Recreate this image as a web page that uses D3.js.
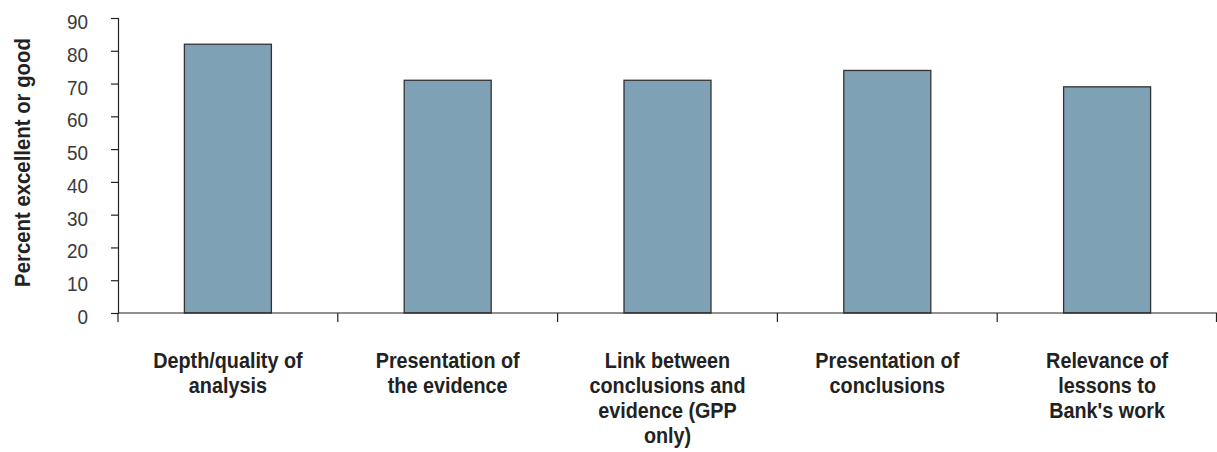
<!DOCTYPE html>
<html>
<head>
<meta charset="utf-8">
<script src="https://cdn.jsdelivr.net/npm/d3@7"></script>
<style>
  body { margin: 0; background: #fff; }
  svg { display: block; }
  .narrow { font-family: "Liberation Sans Narrow", "Arial Narrow", "Liberation Sans", sans-serif; }
</style>
</head>
<body>
<svg id="chart" width="1217" height="452"></svg>
<script>
const categories = [
  ["Depth/quality of", "analysis"],
  ["Presentation of", "the evidence"],
  ["Link between", "conclusions and", "evidence (GPP", "only)"],
  ["Presentation of", "conclusions"],
  ["Relevance of", "lessons to", "Bank's work"]
];
const values = [82, 71, 71, 74, 69];
const yTicks = [0, 10, 20, 30, 40, 50, 60, 70, 80, 90];
const yLabel = "Percent excellent or good";

(function () {
const svg = d3.select("#chart");
const mLeft = 118, mRight = 1217, mTop = 18, mBottom = 313;
const sx = 0.9; // horizontal condensing of text

const xOuter = d3.scaleBand().domain(d3.range(categories.length)).range([mLeft, mRight]);
const y = d3.scaleLinear().domain([0, 90]).range([mBottom, mTop]);
const barW = 87;

// bars
svg.append("g").selectAll("rect").data(values).join("rect")
  .attr("x", (d, i) => xOuter(i) + xOuter.bandwidth() / 2 - barW / 2)
  .attr("width", barW)
  .attr("y", d => y(d))
  .attr("height", d => y(0) - y(d))
  .attr("fill", "#7fa1b5")
  .attr("stroke", "#333")
  .attr("stroke-width", 1.3);

// y axis
const yAxis = svg.append("g").attr("transform", `translate(${mLeft},0)`)
  .call(d3.axisLeft(y).tickValues(yTicks).tickSize(7).tickPadding(23));
yAxis.select(".domain").attr("stroke", "#222").attr("stroke-width", 1.2);
yAxis.selectAll(".tick line").attr("stroke", "#222").attr("stroke-width", 1.2);
yAxis.selectAll(".tick text").attr("class", "narrow").attr("font-size", 21).attr("fill", "#3a3a3a")
  .attr("x", -30 / sx).attr("transform", `scale(${sx},1)`).attr("dy", "0.5em");

// x axis
const xAxis = svg.append("g").attr("transform", `translate(0,${mBottom})`);
xAxis.append("line").attr("x1", mLeft).attr("x2", mRight).attr("stroke", "#222").attr("stroke-width", 1.2);
const bounds = d3.range(categories.length + 1).map(i => i < categories.length ? xOuter(i) : mRight - 0.5);
xAxis.selectAll("line.t").data(bounds).join("line").attr("class", "t")
  .attr("x1", d => d).attr("x2", d => d).attr("y1", 0).attr("y2", 9)
  .attr("stroke", "#222").attr("stroke-width", 1.2);

// category labels
const labels = svg.append("g");
categories.forEach((lines, i) => {
  const cx = xOuter(i) + xOuter.bandwidth() / 2;
  const t = labels.append("text").attr("class", "narrow")
    .attr("transform", `translate(${cx},368) scale(${sx},1)`)
    .attr("text-anchor", "middle").attr("font-size", 22).attr("font-weight", "bold").attr("fill", "#222");
  lines.forEach((ln, j) => t.append("tspan").attr("x", 0).attr("y", j * 25).text(ln));
});

// y label
svg.append("text").attr("class", "narrow")
  .attr("transform", `translate(30,162.5) rotate(-90) scale(0.925,1)`)
  .attr("text-anchor", "middle").attr("font-size", 22).attr("font-weight", "bold").attr("fill", "#222")
  .text(yLabel);
})();
</script>
</body>
</html>
